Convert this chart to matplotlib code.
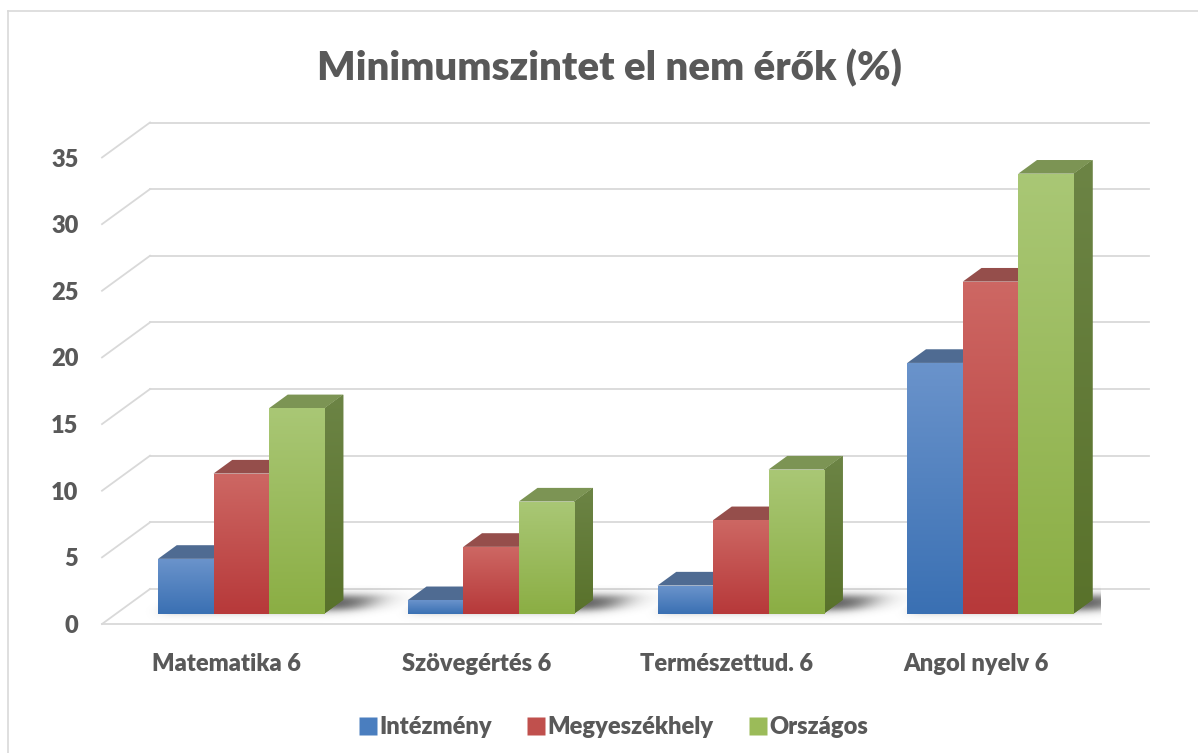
import numpy as np
import matplotlib
matplotlib.use("Agg")
import matplotlib.pyplot as plt
from matplotlib.patches import Polygon
from matplotlib.lines import Line2D
from matplotlib.colors import to_rgb

# ---------------- data ----------------
title = "Minimumszintet el nem érők (%)"
categories = ["Matematika 6", "Szövegértés 6", "Természettud. 6", "Angol nyelv 6"]
series_names = ["Intézmény", "Megyeszékhely", "Országos"]
intezmeny = [4.1, 1.0, 2.1, 18.8]
megyeszekhely = [10.5, 5.0, 7.0, 24.9]
orszagos = [15.4, 8.4, 10.8, 33.0]
y_ticks = [0, 5, 10, 15, 20, 25, 30, 35]

series = [intezmeny, megyeszekhely, orszagos]

# ---------------- style ----------------
FONT = "Lato"
WEIGHT = 800
TXT = "#595959"
GRID = "#d9d9d9"
front_top = ["#6a93cb", "#cd6763", "#a9c775"]
front_bot = ["#3a70b3", "#b7393a", "#8bae44"]
legend_col = ["#4a7ebf", "#c0504d", "#9bbb59"]
top_col = ["#4f6b92", "#954e4b", "#7c9454"]
side_top = ["#405a80", "#7e3e3c", "#6c8445"]
side_bot = ["#2f4a70", "#6c2f2d", "#59722b"]

W, H = 1198, 753
fig = plt.figure(figsize=(W / 100, H / 100), dpi=100)
fig.patch.set_facecolor("white")

ax_left, ax_right = 102, 1101
ax_bottom, ax_top = 624, 157.5
ax = fig.add_axes([ax_left / W, 1 - ax_bottom / H,
                   (ax_right - ax_left) / W, (ax_bottom - ax_top) / H])
ax.set_xlim(-0.5, 3.5)
ax.set_ylim(0, 35)
for s in ax.spines.values():
    s.set_visible(False)
ax.set_facecolor("none")

px_x = (ax_right - ax_left) / 4.0
px_y = (ax_bottom - ax_top) / 35.0
# depth vector front plane -> back wall (in data units)
Dx, Dy = 48 / px_x, 35 / px_y
f0, fd = 0.30, 0.39          # bar front-face depth, bar depth
b0x, b0y = f0 * Dx, f0 * Dy
ddx, ddy = fd * Dx, fd * Dy
bw = 55.5 / px_x

# ---------------- grid / walls ----------------
for v in y_ticks:
    ax.add_line(Line2D([-0.5 + Dx, 3.5 + Dx], [v + Dy, v + Dy], color=GRID,
                       lw=1.3, zorder=1, clip_on=False))
    ax.add_line(Line2D([-0.5, -0.5 + Dx], [v, v + Dy], color=GRID,
                       lw=1.3, zorder=1, clip_on=False))
ax.add_line(Line2D([-0.5, 3.5], [0, 0], color=GRID, lw=1.3, zorder=1, clip_on=False))

x = np.arange(len(categories))

# ---------------- soft floor shadows ----------------
xs = np.linspace(-0.5, 3.5 + Dx, 1600)
ys = np.linspace(-0.2, Dy + 0.3, 140)
XX, YY = np.meshgrid(xs, ys)
WW = YY / Dy
UU = XX - WW * Dx
sig = lambda z: 1 / (1 + np.exp(-z))
alpha = np.zeros_like(XX)
for i in x:
    L = i + b0x - 1.5 * bw
    R = i + b0x + 1.5 * bw
    a = (sig((UU - (L - 0.035)) / 0.02) * sig(((R + 0.06) - UU) / 0.045)
         * sig((WW - 0.40) / 0.07) * sig((0.80 - WW) / 0.07))
    alpha = np.maximum(alpha, a)
rgba = np.zeros(XX.shape + (4,))
rgba[..., :3] = 0.12
rgba[..., 3] = 0.8 * alpha
ax.imshow(rgba, extent=(xs[0], xs[-1], ys[0], ys[-1]), origin="lower",
          aspect="auto", zorder=2, interpolation="bilinear")


def grad_img(c1, c2, n=64):
    c1, c2 = np.array(to_rgb(c1)), np.array(to_rgb(c2))
    t = np.linspace(0, 1, n)[:, None]
    return (c1 * (1 - t) + c2 * t)[:, None, :]


# ---------------- bars ----------------
z = 3
for i in x:
    for j, vals in enumerate(series):
        h = vals[i]
        l = i + b0x - 1.5 * bw + j * bw
        r = l + bw
        b = b0y
        t = b0y + h
        # side
        side = Polygon([(r, b), (r + ddx, b + ddy), (r + ddx, t + ddy), (r, t)],
                       closed=True, facecolor=side_bot[j], edgecolor="none", zorder=z)
        ax.add_patch(side)
        im = ax.imshow(grad_img(side_top[j], side_bot[j]), extent=(r, r + ddx, b, t + ddy),
                       aspect="auto", zorder=z + 0.1, interpolation="bilinear")
        im.set_clip_path(side)
        # top
        ax.add_patch(Polygon([(l, t), (r, t), (r + ddx, t + ddy), (l + ddx, t + ddy)],
                             closed=True, facecolor=top_col[j], edgecolor="none", zorder=z + 0.2))
        # front
        bar = ax.bar(l, h, width=bw, bottom=b, align="edge", color=front_bot[j],
                     edgecolor="none", zorder=z + 0.3)[0]
        im = ax.imshow(grad_img(front_top[j], front_bot[j]), extent=(l, r, b, t),
                       aspect="auto", zorder=z + 0.4, interpolation="bilinear")
        im.set_clip_path(bar)
        z += 1

ax.set_xlim(-0.5, 3.5)
ax.set_ylim(0, 35)

# ---------------- axes labels ----------------
ax.set_yticks(y_ticks)
ax.set_yticklabels([str(v) for v in y_ticks], fontfamily=FONT, fontweight=WEIGHT,
                   fontsize=17, color=TXT)
ax.set_xticks(x)
ax.set_xticklabels(categories, fontfamily=FONT, fontweight=WEIGHT, fontsize=17, color=TXT)
ax.tick_params(axis="y", length=0, pad=17)
ax.tick_params(axis="x", length=0, pad=21)

# ---------------- title ----------------
fig.text(609 / W, 1 - 68 / H, title, ha="center", va="center", fontfamily=FONT,
         fontweight=WEIGHT, fontsize=29, color=TXT)

# ---------------- legend ----------------
handles = [Line2D([], [], marker="s", linestyle="none", markersize=13,
                  markerfacecolor=legend_col[j], markeredgecolor="none")
           for j in range(3)]
fig.legend(handles, series_names, loc="center", bbox_to_anchor=(614 / W, 1 - 727 / H),
           ncol=3, frameon=False, handlelength=0.7, handletextpad=0.15, columnspacing=1.5,
           prop={"family": FONT, "weight": WEIGHT, "size": 17}, labelcolor=TXT)

# ---------------- chart border ----------------
fig.add_artist(Line2D([8 / W, 8 / W], [0, 1 - 11 / H], color=GRID, lw=1.2,
                      transform=fig.transFigure))
fig.add_artist(Line2D([8 / W, 1], [1 - 11 / H, 1 - 11 / H], color=GRID, lw=1.2,
                      transform=fig.transFigure))

fig.savefig("out.png", dpi=100)
